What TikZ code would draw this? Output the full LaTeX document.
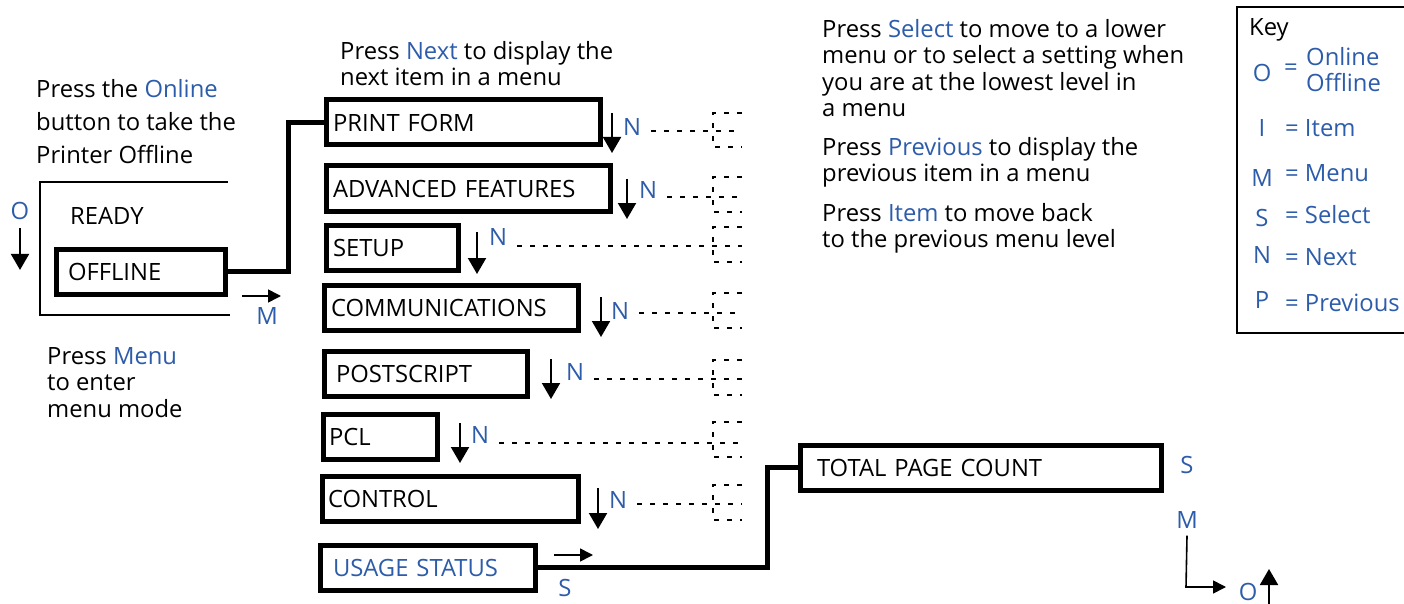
\documentclass[tikz,border=0pt]{standalone}
\usepackage{fontspec}
\setmainfont{Open Sans}
\usetikzlibrary{arrows.meta}
\definecolor{keyblue}{RGB}{44,92,170}
\tikzset{
  menubox/.style={draw, line width=5pt, anchor=north west, outer sep=0pt,
    minimum height=45pt, inner xsep=7pt, inner ysep=0pt, align=left},
  note/.style={anchor=north west, inner sep=0pt, align=left},
  keyletter/.style={text=keyblue, inner sep=0pt},
  nextarrow/.style={line width=2pt, -{Triangle[width=18pt,length=16pt]}},
  smallarrow/.style={line width=1.6pt, -{Triangle[width=13pt,length=13pt]}},
  link/.style={line width=5pt},
  dashline/.style={line width=1.3pt, dash pattern=on 5pt off 8pt},
  nextline/.style={dashline, shorten <=10pt},
}
\begin{document}
\fontsize{23.8pt}{26.5pt}\selectfont
\begin{tikzpicture}[x=1pt,y=-1pt]
\useasboundingbox (0,0) rectangle (1404,604);

% offline part
\node[note] (onlinenote) at (36,79) {Press the \textcolor{keyblue}{Online}\\[6.5pt]button to take the\\[6.5pt]Printer Offline};
\draw[line width=2pt] (228,182) -- (40,182) -- (40,315) -- (230,315);
\node[anchor=west, inner sep=0pt] (ready) at (70,216) {READY};
\node[menubox, inner xsep=12pt, text width=145pt] (offline) at (56,249) {OFFLINE};
\node[keyletter] (o1) at (20,211) {O};
\draw[nextarrow] ([yshift=-8pt]o1.south) -- ++(0,42);
\coordinate (marrow) at (242,296);
\draw[smallarrow] (marrow) -- ++(39,0);
\node[keyletter] (m1) at (267,316) {M};
\node[note] (menunote) at (47,347) {Press \textcolor{keyblue}{Menu}\\to enter\\menu mode};

% menu items
\node[note] (nextnote) at (340,41) {Press \textcolor{keyblue}{Next} to display the\\next item in a menu};
\node[menubox, text width=260pt] (printform) at (326,100) {PRINT~FORM};
\node[menubox, text width=270pt] (advanced) at (326,166) {ADVANCED~FEATURES};
\node[menubox, text width=118pt] (setup) at (326,225) {SETUP};
\node[menubox, text width=240pt] (comms) at (324,285) {COMMUNICATIONS};
\node[menubox, inner xsep=12pt, text width=179pt] (postscript) at (324,351) {POSTSCRIPT};
\node[menubox, inner xsep=6pt, text width=102pt] (pcl) at (323,414) {PCL};
\node[menubox, inner xsep=6pt, text width=244pt] (control) at (322,476) {CONTROL};
\node[menubox, inner xsep=13pt, text width=189pt, text=keyblue] (usage) at (320,545) {USAGE~STATUS};
\draw[link] (offline.east) -- ++(63,0) |- (printform.west);

% next arrows and dashed branches
\draw[nextarrow] (612,113) -- ++(0,40);
\node[keyletter] (n1) at (632,127) {N};
\coordinate (b1) at (713,131);
\draw[nextline] (n1.east |- b1) -- ([xshift=29pt]b1);
\draw[dashline] ([shift={(29,-18)}]b1) -| ([shift={(0,16)}]b1) -- ++(29,0);

\draw[nextarrow] (627,179) -- ++(0,40);
\node[keyletter] (n2) at (648,190) {N};
\coordinate (b2) at (713,197);
\draw[nextline] (n2.east |- b2) -- ([xshift=29pt]b2);
\draw[dashline] ([shift={(29,-20)}]b2) -| ([shift={(0,15)}]b2) -- ++(29,0);

\draw[nextarrow] (477,232) -- ++(0,42);
\node[keyletter] (n3) at (498,237) {N};
\coordinate (b3) at (713,246);
\draw[nextline] (n3.east |- b3) -- ([xshift=29pt]b3);
\draw[dashline] ([shift={(29,-19)}]b3) -| ([shift={(0,16)}]b3) -- ++(29,0);

\draw[nextarrow] (601,297) -- ++(0,40);
\node[keyletter] (n4) at (620,311) {N};
\coordinate (b4) at (713,313);
\draw[nextline] (n4.east |- b4) -- ([xshift=29pt]b4);
\draw[dashline] ([shift={(29,-20)}]b4) -| ([shift={(0,15)}]b4) -- ++(29,0);

\draw[nextarrow] (551,359) -- ++(0,40);
\node[keyletter] (n5) at (575,372) {N};
\coordinate (b5) at (713,379);
\draw[nextline] (n5.east |- b5) -- ([xshift=29pt]b5);
\draw[dashline] ([shift={(29,-19)}]b5) -| ([shift={(0,16)}]b5) -- ++(29,0);

\draw[nextarrow] (460,423) -- ++(0,40);
\node[keyletter] (n6) at (480,435) {N};
\coordinate (b6) at (713,443);
\draw[nextline] (n6.east |- b6) -- ([xshift=29pt]b6);
\draw[dashline] ([shift={(29,-21)}]b6) -| ([shift={(0,14)}]b6) -- ++(29,0);

\draw[nextarrow] (598,488) -- ++(0,41);
\node[keyletter] (n7) at (618,500) {N};
\coordinate (b7) at (713,504);
\draw[nextline] (n7.east |- b7) -- ([xshift=29pt]b7);
\draw[dashline] ([shift={(29,-19)}]b7) -| ([shift={(0,16)}]b7) -- ++(29,0);

% select into total page count
\coordinate (sarrow) at (554,555);
\draw[smallarrow] (sarrow) -- ++(39,0);
\node[keyletter] (s1) at (565,588) {S};
\node[menubox, inner xsep=17pt, text width=327pt] (total) at (800,445) {TOTAL~PAGE~COUNT};
\draw[link] (usage.east) -- ++(232,0) |- (total.west);
\node[keyletter] (s2) at (1187,465) {S};
\node[keyletter] (m2) at (1187,520) {M};
\coordinate (mturn) at (1186,587);
\draw[smallarrow] ([yshift=-7pt]m2.south) -- (mturn) -- ++(40,0);
\node[keyletter] (o2) at (1248,592) {O};
\coordinate (oarrow) at (1269,610);
\draw[nextarrow] (oarrow) -- ++(0,-41);

% help texts
\node[note] (selectnote) at (822,19) {Press \textcolor{keyblue}{Select} to move to a lower\\menu or to select a setting when\\you are at the lowest level in\\a menu};
\node[note] (prevnote) at (822,137) {Press \textcolor{keyblue}{Previous} to display the\\previous item in a menu};
\node[note] (itemnote) at (822,203) {Press \textcolor{keyblue}{Item} to move back\\to the previous menu level};

% key
\draw[line width=1.8pt] (1237,7) rectangle (1412,333);
\node[anchor=west, inner sep=0pt] (keytitle) at (1249,30) {Key};
\node[keyletter] (ko) at (1262,73) {O};
\node[keyletter] (keq) at (1291,70) {=};
\node[keyletter, align=left, anchor=north west] (kon) at (1306,47) {Online\\Offline};
\node[keyletter] (ki) at (1262,128) {I};
\node[keyletter, anchor=west] (kitem) at (1285,128) {= Item};
\node[keyletter] (km) at (1262,178) {M};
\node[keyletter, anchor=west] (kmenu) at (1285,173) {= Menu};
\node[keyletter] (ks) at (1262,218) {S};
\node[keyletter, anchor=west] (kselect) at (1285,215) {= Select};
\node[keyletter] (kn) at (1262,255) {N};
\node[keyletter, anchor=west] (knext) at (1285,257) {= Next};
\node[keyletter] (kp) at (1262,300) {P};
\node[keyletter, anchor=west] (kprev) at (1285,303) {= Previous};
\end{tikzpicture}
\end{document}
